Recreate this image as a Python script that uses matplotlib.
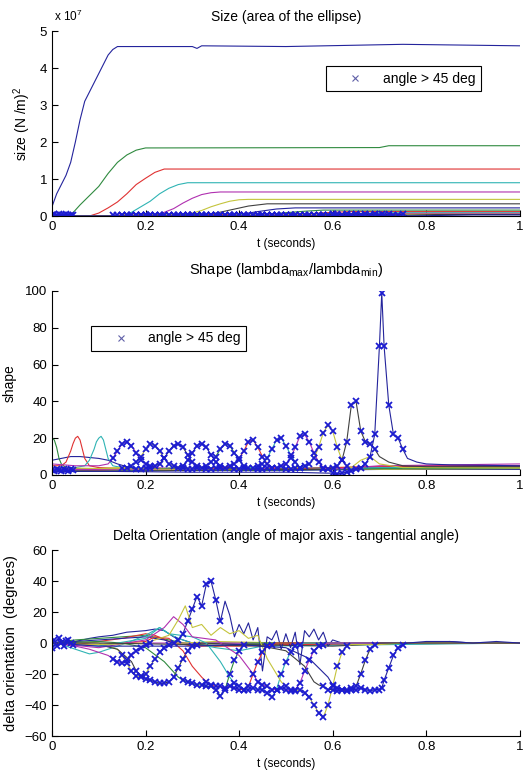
import numpy as np
import matplotlib
matplotlib.use("Agg")
import matplotlib.pyplot as plt
from matplotlib.lines import Line2D

plt.rcParams["font.family"] = ["Liberation Sans", "DejaVu Sans"]
plt.rcParams["mathtext.fontset"] = "custom"
plt.rcParams["mathtext.rm"] = "Liberation Sans"
plt.rcParams["mathtext.it"] = "Liberation Sans"

# matlab default colour order (b g r c m y k), slightly muted like the jpeg
PALETTE = {"b": "#24249c", "g": "#2f8a3f", "r": "#e03232", "c": "#2fb4b4",
           "m": "#b030b0", "y": "#c4c43c", "k": "#404040"}
SERIES_COLOR = ["b", "g", "r", "c", "m", "y", "k", "b", "g", "r", "c", "m", "y", "k", "b"]
MARK_COLOR = "#1c1cd0"

# ---- size of the ellipse, units of 1e7 (N/m)^2 ----
SIZE_T = [
    [0, 0.01, 0.02, 0.03, 0.04, 0.05, 0.06, 0.07, 0.08, 0.09, 0.10, 0.11, 0.12, 0.13, 0.14, 0.30, 0.31, 0.32, 0.50, 0.75, 1.0],
    [0, 0.04, 0.06, 0.08, 0.10, 0.12, 0.14, 0.16, 0.18, 0.20, 0.70, 0.72, 1.0],
    [0, 0.08, 0.10, 0.12, 0.14, 0.16, 0.18, 0.20, 0.22, 0.24, 1.0],
    [0, 0.15, 0.17, 0.19, 0.21, 0.23, 0.25, 0.27, 0.29, 1.0],
    [0, 0.12, 0.22, 0.24, 0.26, 0.28, 0.30, 0.32, 0.34, 0.36, 1.0],
    [0, 0.14, 0.28, 0.30, 0.32, 0.34, 0.36, 0.38, 0.40, 0.42, 1.0],
    [0, 0.17, 0.32, 0.34, 0.38, 0.42, 0.46, 1.0],
    [0, 0.26, 0.37, 0.40, 0.44, 0.48, 0.52, 1.0],
    [0, 0.27, 0.42, 0.46, 0.50, 0.54, 0.58, 1.0],
    [0, 0.32, 0.48, 0.52, 0.56, 0.60, 0.64, 1.0],
    [0, 0.38, 0.54, 0.58, 0.62, 0.66, 0.70, 1.0],
    [0, 0.43, 0.59, 0.63, 0.67, 0.71, 0.75, 1.0],
    [0, 0.49, 0.64, 0.68, 0.72, 0.76, 1.0],
    [0, 0.57, 0.70, 0.74, 0.78, 0.82, 1.0],
    [0.05, 0.59, 0.76, 0.80, 0.85, 0.90, 1.0],
]
SIZE_Y = [
    [0.25, 0.6, 0.85, 1.1, 1.45, 2.0, 2.6, 3.1, 3.35, 3.6, 3.85, 4.1, 4.35, 4.5, 4.58, 4.58, 4.53, 4.6, 4.58, 4.64, 4.6],
    [0, 0.02, 0.3, 0.55, 0.8, 1.15, 1.45, 1.65, 1.78, 1.84, 1.85, 1.9, 1.9],
    [0, 0, 0.08, 0.22, 0.38, 0.6, 0.85, 1.02, 1.18, 1.27, 1.27],
    [0, 0, 0.1, 0.25, 0.4, 0.6, 0.75, 0.85, 0.9, 0.9],
    [0, 0, 0.02, 0.1, 0.2, 0.35, 0.48, 0.58, 0.63, 0.65, 0.65],
    [0, 0, 0.02, 0.08, 0.15, 0.25, 0.33, 0.4, 0.44, 0.45, 0.45],
    [0, 0, 0.02, 0.05, 0.16, 0.27, 0.33, 0.33],
    [0, 0, 0.01, 0.04, 0.12, 0.19, 0.22, 0.22],
    [0, 0, 0.01, 0.04, 0.09, 0.13, 0.16, 0.16],
    [0, 0, 0.01, 0.03, 0.07, 0.10, 0.12, 0.12],
    [0, 0, 0.01, 0.03, 0.05, 0.07, 0.09, 0.09],
    [0, 0, 0.01, 0.02, 0.04, 0.06, 0.07, 0.07],
    [0, 0, 0.01, 0.02, 0.04, 0.05, 0.05],
    [0, 0, 0.01, 0.02, 0.03, 0.04, 0.04],
    [0, 0, 0.005, 0.01, 0.02, 0.03, 0.03],
]

# ---- shape, lambda_max / lambda_min ----
SHAPE_T = [
    [0, 0.02, 0.04, 0.06, 0.08, 0.10, 0.12, 0.14, 0.16, 0.18, 0.20, 0.30, 0.50, 0.70, 1.0],
    [0, 0.005, 0.01, 0.015, 0.02, 0.03, 0.05, 0.10, 0.20, 0.40, 0.60, 0.80, 1.0],
    [0, 0.02, 0.03, 0.04, 0.045, 0.05, 0.055, 0.06, 0.065, 0.07, 0.08, 0.10, 0.20, 0.40, 0.60, 0.80, 1.0],
    [0, 0.05, 0.07, 0.08, 0.09, 0.095, 0.10, 0.105, 0.11, 0.115, 0.12, 0.13, 0.15, 0.20, 0.40, 0.60, 1.0],
    [0, 0.05, 0.10, 0.12, 0.22, 0.30, 0.50, 0.70, 1.0],
    [0, 0.10, 0.14, 0.28, 0.40, 0.60, 1.0],
    [0, 0.10, 0.17, 0.32, 0.40, 0.60, 0.80, 1.0],
    [0, 0.10, 0.20, 0.26, 0.37, 0.45, 0.60, 0.80, 1.0],
    [0, 0.10, 0.20, 0.27, 0.42, 0.50, 0.70, 1.0],
    [0, 0.10, 0.20, 0.32, 0.48, 0.60, 0.80, 1.0],
    [0, 0.10, 0.20, 0.38, 0.54, 0.70, 1.0],
    [0, 0.10, 0.30, 0.43, 0.59, 0.70, 1.0],
    [0, 0.10, 0.30, 0.49, 0.64, 0.66, 0.68, 0.70, 0.75, 1.0],
    [0, 0.10, 0.30, 0.50, 0.57, 0.70, 0.72, 0.75, 0.80, 1.0],
    [0.05, 0.10, 0.30, 0.50, 0.59, 0.76, 0.78, 0.80, 0.85, 1.0],
]
SHAPE_Y = [
    [8, 9, 10, 10, 9.5, 9, 8, 6, 4.5, 3.5, 3, 2.5, 2.5, 3, 3],
    [20, 19, 15, 9, 6, 4, 3.5, 3, 2.5, 2.5, 3, 3.5, 3.5],
    [5, 5, 7, 13, 17, 20, 21, 19, 14, 9, 5, 4, 3, 3, 4, 5, 5],
    [4, 4, 5, 8, 14, 18, 20, 21, 19, 14, 9, 5, 4, 3, 3, 4, 4],
    [6, 5, 5, 6, 4, 3, 3, 4, 4.5],
    [3, 3.5, 4, 4, 3, 3, 3.5],
    [2, 2.5, 3, 4, 3.5, 3, 4, 4],
    [3, 3, 3.5, 3.5, 4, 3, 3, 5, 5],
    [2, 2, 3, 4, 4, 3, 3.5, 4],
    [3, 2.5, 2.5, 3, 3, 4, 5, 5],
    [2, 2, 2.5, 3, 3, 4, 4],
    [3, 3, 3, 3, 3, 5, 6],
    [4, 3.5, 3, 3, 4, 8, 10, 6, 4, 4],
    [2, 2, 2.5, 3, 3, 10, 7, 5, 4.5, 4.5],
    [2, 2, 1.5, 1.5, 1, 9, 7, 6, 5.5, 5],
]

# ---- delta orientation, degrees ----
ORI_T = [
    [0, 0.01, 0.02, 0.03, 0.05, 0.08, 0.10, 0.13, 0.16, 0.20, 0.22, 0.24, 0.26, 0.30, 0.50, 0.80, 0.85, 0.90, 1.0],
    [0, 0.02, 0.05, 0.10, 0.15, 0.20, 0.25, 0.30, 0.35, 0.40, 1.0],
    [0, 0.05, 0.10, 0.15, 0.20, 0.22, 0.25, 0.30, 0.40, 0.50, 1.0],
    [0, 0.03, 0.06, 0.08, 0.10, 0.13, 0.16, 0.20, 0.23, 0.25, 0.27, 0.30, 0.35, 0.40, 0.45, 1.0],
    [0, 0.05, 0.08, 0.10, 0.12, 0.22, 0.30, 0.50, 1.0],
    [0, 0.05, 0.10, 0.14, 0.28, 0.35, 0.50, 1.0],
    [0, 0.05, 0.10, 0.14, 0.17, 0.32, 0.40, 0.60, 0.75, 1.0],
    [0, 0.05, 0.10, 0.15, 0.20, 0.24, 0.26, 0.37, 0.38, 0.39, 0.40, 0.41, 0.42, 0.43, 0.44, 0.45, 0.46,
     0.47, 0.48, 0.49, 0.50, 0.51, 0.52, 0.53, 0.54, 0.55, 0.56, 0.57, 0.58, 0.59, 0.60, 0.62, 1.0],
    [0, 0.10, 0.15, 0.20, 0.24, 0.27, 0.42, 0.60, 1.0],
    [0, 0.10, 0.20, 0.22, 0.25, 0.28, 0.30, 0.32, 0.48, 1.0],
    [0, 0.10, 0.20, 0.23, 0.25, 0.30, 0.33, 0.36, 0.38, 0.54, 1.0],
    [0, 0.10, 0.20, 0.24, 0.26, 0.28, 0.30, 0.35, 0.40, 0.43, 0.59, 1.0],
    [0, 0.10, 0.20, 0.25, 0.27, 0.285, 0.30, 0.32, 0.34, 0.36, 0.38, 0.40, 0.42, 0.44, 0.46, 0.49, 0.64, 0.70, 0.75, 1.0],
    [0, 0.10, 0.30, 0.45, 0.50, 0.52, 0.54, 0.55, 0.56, 0.57, 0.70, 1.0],
    [0.05, 0.10, 0.20, 0.30, 0.40, 0.50, 0.55, 0.59, 0.76, 0.80, 0.85, 0.90, 0.95, 1.0],
]
ORI_Y = [
    [3, -2, 2, 0, 1, 3, 4, 5, 7, 8, 9, 8, 4, 0, 0, 0, 1, 0, 0],
    [-2, 1, 2, 3, 4, 5, 2, -1, -2, -1, 0],
    [0, -1, 1, 3, 6, 5, 1, -2, -2, -1, 0],
    [1, -2, -5, -7, -6, -3, 0, 5, 10, 6, 3, 0, -3, -5, -2, 0],
    [0, -2, -4, -6, -8, 0, 0, 0, 0],
    [0, 1, 0, -4, 0, 1, 0, 0],
    [0, -1, -1, -4, -12, 0, -1, -2, 0, 0],
    [0, 1, 2, 3, 4, 2, 0, 27, 18, 4, 12, 6, 13, 2, 10, -18, 4,
     2, 8, -4, 6, -3, 7, -14, 8, 4, 9, 2, 7, -2, 2, 0, 0],
    [0, 1, 0, -3, -12, -22, 0, 0, 0],
    [0, -1, 1, 4, 3, -5, -15, -22, 0, 0],
    [0, -2, 3, 10, 6, 4, 0, -12, -22, 0, 0],
    [0, -3, 2, 10, 17, 12, 4, 2, -8, -20, 0, 0],
    [0, -1, 0, 5, 15, 24, 10, 12, 5, 10, 6, 8, 3, 5, -10, -25, -1, -1, 0, 0],
    [0, 0, -1, -2, -5, -10, -15, -20, -25, -27, 0, 0],
    [-1, -2, -2, -2, -1, -3, -10, -22, 0, 1, 1, 0, 1, 0],
]

# ---- samples where angle > 45 deg (drawn with x) ----
MARK_T = [
    [], [], [], [],
    [0.13, 0.14, 0.15, 0.16, 0.17, 0.18, 0.19, 0.20, 0.21],
    [0.15, 0.16, 0.17, 0.18, 0.19, 0.20, 0.21, 0.22, 0.23, 0.24, 0.25, 0.26],
    [0.18, 0.19, 0.20, 0.21, 0.22, 0.23, 0.24, 0.25, 0.26, 0.27, 0.28, 0.29, 0.30, 0.31],
    [0.27, 0.28, 0.29, 0.30, 0.31, 0.32, 0.33, 0.34, 0.35, 0.36],
    [0.28, 0.29, 0.30, 0.31, 0.32, 0.33, 0.34, 0.35, 0.36, 0.37, 0.38, 0.39, 0.40, 0.41],
    [0.33, 0.34, 0.35, 0.36, 0.37, 0.38, 0.39, 0.40, 0.41, 0.42, 0.43, 0.44, 0.45, 0.46, 0.47],
    [0.39, 0.40, 0.41, 0.42, 0.43, 0.44, 0.45, 0.46, 0.47, 0.48, 0.49, 0.50, 0.51, 0.52, 0.53],
    [0.44, 0.45, 0.46, 0.47, 0.48, 0.49, 0.50, 0.51, 0.52, 0.53, 0.54, 0.55, 0.56, 0.57, 0.58],
    [0.50, 0.51, 0.52, 0.53, 0.54, 0.55, 0.56, 0.57, 0.58, 0.59, 0.60, 0.61, 0.62, 0.63],
    [0.58, 0.59, 0.60, 0.61, 0.62, 0.63, 0.64, 0.65, 0.66, 0.67, 0.68, 0.69],
    [0, 0.005, 0.01, 0.015, 0.02, 0.025, 0.03, 0.035, 0.04, 0.045,
     0.60, 0.61, 0.62, 0.63, 0.64, 0.65, 0.66, 0.67, 0.68, 0.69, 0.70, 0.705, 0.71, 0.72, 0.73, 0.74, 0.75],
]
MARK_SIZE = [
    [], [], [], [],
    [0.03, 0.02, 0.04, 0.03, 0.02, 0.04, 0.03, 0.02, 0.03],
    [0.02, 0.04, 0.03, 0.02, 0.03, 0.04, 0.02, 0.03, 0.04, 0.03, 0.02, 0.03],
    [0.03, 0.02, 0.04, 0.03, 0.02, 0.04, 0.03, 0.02, 0.03, 0.04, 0.02, 0.03, 0.04, 0.03],
    [0.02, 0.03, 0.04, 0.02, 0.03, 0.04, 0.03, 0.02, 0.04, 0.03],
    [0.04, 0.03, 0.02, 0.04, 0.03, 0.02, 0.03, 0.04, 0.02, 0.03, 0.04, 0.03, 0.02, 0.03],
    [0.03, 0.04, 0.02, 0.03, 0.04, 0.03, 0.02, 0.04, 0.03, 0.02, 0.03, 0.04, 0.03, 0.02, 0.03],
    [0.02, 0.03, 0.04, 0.03, 0.02, 0.04, 0.03, 0.02, 0.03, 0.04, 0.02, 0.03, 0.04, 0.03, 0.02],
    [0.04, 0.02, 0.03, 0.04, 0.03, 0.02, 0.04, 0.03, 0.02, 0.03, 0.04, 0.03, 0.02, 0.04, 0.03],
    [0.03, 0.04, 0.03, 0.02, 0.04, 0.03, 0.02, 0.03, 0.04, 0.03, 0.05, 0.04, 0.03, 0.04],
    [0.04, 0.03, 0.05, 0.04, 0.03, 0.05, 0.04, 0.06, 0.04, 0.05, 0.03, 0.05],
    [0.03, 0.06, 0.02, 0.05, 0.04, 0.03, 0.06, 0.02, 0.04, 0.03,
     0.03, 0.05, 0.04, 0.06, 0.03, 0.05, 0.04, 0.06, 0.03, 0.05, 0.04, 0.06, 0.03, 0.05, 0.04, 0.03, 0.05],
]
MARK_SHAPE = [
    [], [], [], [],
    [9, 13, 17, 18, 16, 12, 8, 6, 5],
    [4, 4, 5, 7, 10, 14, 17, 16, 13, 9, 6, 5],
    [3, 3, 4, 4, 5, 6, 9, 13, 16, 17, 15, 11, 7, 5],
    [4, 5, 8, 12, 16, 17, 15, 11, 7, 5],
    [4, 3, 3, 4, 4, 5, 7, 10, 14, 17, 16, 12, 8, 5],
    [3, 3, 4, 4, 4, 5, 6, 9, 13, 18, 19, 15, 10, 6, 4],
    [3, 3, 4, 4, 4, 5, 6, 9, 14, 19, 20, 16, 11, 7, 4],
    [3, 3, 4, 4, 4, 5, 6, 9, 15, 21, 22, 18, 12, 7, 4],
    [3, 3, 4, 4, 5, 6, 9, 15, 23, 27, 24, 15, 8, 5],
    [3, 3, 4, 5, 8, 18, 38, 40, 24, 18, 17, 14],
    [2.5, 2, 3, 2.5, 2, 3, 2.5, 2, 3, 2.5,
     1, 0.5, 1, 1.5, 2, 3, 4, 6, 10, 22, 70, 99, 70, 38, 22, 20, 14],
]
MARK_ORI = [
    [], [], [], [],
    [-10, -12, -13, -11, -8, -5, -3, -1, 0],
    [-8, -13, -18, -21, -22, -20, -15, -10, -6, -3, -1, 0],
    [-18, -21, -23, -24, -25, -26, -26, -25, -22, -16, -10, -5, -2, -1],
    [2, 6, 14, 22, 30, 24, 38, 40, 28, 14],
    [-24, -25, -26, -27, -27, -28, -28, -30, -34, -30, -20, -11, -5, -1],
    [-25, -27, -28, -28, -29, -28, -29, -30, -30, -28, -20, -12, -6, -2, -1],
    [-26, -28, -30, -30, -29, -30, -30, -32, -35, -30, -20, -12, -6, -2, -1],
    [-25, -27, -28, -30, -30, -29, -30, -31, -30, -26, -18, -11, -5, -2, -1],
    [-28, -30, -31, -30, -32, -35, -40, -45, -48, -40, -28, -15, -6, -2],
    [-28, -30, -30, -31, -30, -30, -29, -28, -20, -11, -4, -1],
    [-3, 2, -2, 3, 0, -2, 1, 2, 0, -1,
     -27, -29, -30, -31, -30, -30, -29, -30, -31, -30, -30, -29, -24, -16, -8, -3, -1],
]


def merged(t_line, y_line, t_mark, y_mark):
    t = np.concatenate([t_line, t_mark])
    y = np.concatenate([y_line, y_mark])
    order = np.argsort(t, kind="stable")
    return t[order], y[order]


def draw_panel(ax, line_t, line_y, mark_y):
    for i in range(len(line_t)):
        t, y = merged(line_t[i], line_y[i], MARK_T[i], mark_y[i])
        ax.plot(t, y, color=PALETTE[SERIES_COLOR[i]], lw=0.8)
    for i in range(len(line_t)):
        if MARK_T[i]:
            ax.plot(MARK_T[i], mark_y[i], ls="none", marker="x", ms=5,
                    mew=1.3, color=MARK_COLOR)


def style_axes(ax):
    ax.spines["top"].set_visible(False)
    ax.spines["right"].set_visible(False)
    ax.tick_params(direction="in", length=4, width=0.8, labelsize=9.5,
                   top=False, right=False)
    ax.set_xlim(0, 1)
    ax.set_xticks([0, 0.2, 0.4, 0.6, 0.8, 1.0])
    ax.set_xticklabels(["0", "0.2", "0.4", "0.6", "0.8", "1"])
    ax.set_xlabel("t (seconds)", fontsize=8.5)


def add_legend(ax, x, y):
    handle = Line2D([], [], ls="none", marker="x", ms=4.5, mew=0.8, color="#6060a8")
    leg = ax.legend([handle], ["angle > 45 deg"], loc="upper left",
                    bbox_to_anchor=(x, y), fontsize=10, fancybox=False,
                    edgecolor="black", framealpha=1, borderaxespad=0,
                    handlelength=3.5, handletextpad=0.2, borderpad=0.4)
    leg.get_frame().set_linewidth(0.8)


fig = plt.figure(figsize=(5.25, 7.83), dpi=100)
AX_W = 0.891

# size
ax1 = fig.add_axes([0.099, 0.7241, AX_W, 0.2363])
draw_panel(ax1, SIZE_T, SIZE_Y, MARK_SIZE)
style_axes(ax1)
ax1.set_ylim(0, 5)
ax1.set_yticks([0, 1, 2, 3, 4, 5])
ax1.set_title("Size (area of the ellipse)", fontsize=10, pad=7)
ax1.set_ylabel(r"size (N /m)$^2$", fontsize=10)
ax1.yaxis.set_label_coords(-0.041, 0.5)
ax1.text(0.005, 1.04, r"x 10$^7$", transform=ax1.transAxes, fontsize=8.5,
         ha="left", va="bottom")
add_legend(ax1, 0.585, 0.81)

# shape
ax2 = fig.add_axes([0.099, 0.3934, AX_W, 0.2350])
draw_panel(ax2, SHAPE_T, SHAPE_Y, MARK_SHAPE)
style_axes(ax2)
ax2.set_ylim(0, 100)
ax2.set_yticks([0, 20, 40, 60, 80, 100])
ax2.set_title(r"Shape (lambda$_{\mathrm{max}}$/lambda$_{\mathrm{min}}$)", fontsize=10.5, pad=12)
ax2.set_ylabel("shape", fontsize=10)
ax2.yaxis.set_label_coords(-0.076, 0.5)
add_legend(ax2, 0.083, 0.81)

# delta orientation
ax3 = fig.add_axes([0.099, 0.0600, AX_W, 0.2375])
draw_panel(ax3, ORI_T, ORI_Y, MARK_ORI)
style_axes(ax3)
ax3.set_ylim(-60, 60)
ax3.set_yticks([-60, -40, -20, 0, 20, 40, 60])
ax3.set_title("Delta Orientation (angle of major axis - tangential angle)", fontsize=10, pad=7)
ax3.set_ylabel("delta orientation  (degrees)", fontsize=10.5)
ax3.yaxis.set_label_coords(-0.072, 0.5)

fig.savefig("out.png", dpi=100)
